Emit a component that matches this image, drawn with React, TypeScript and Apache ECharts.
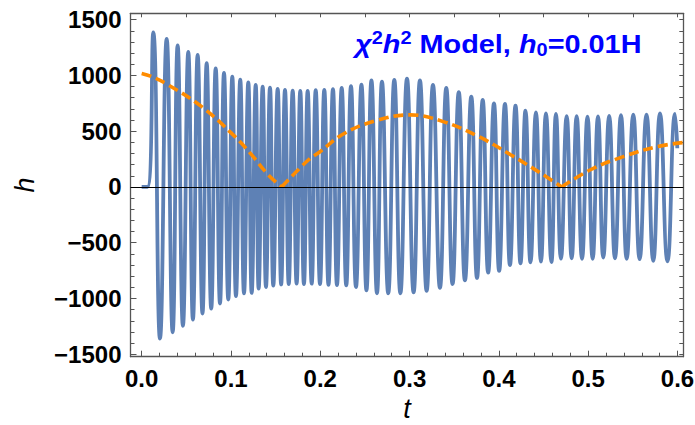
import React, { useEffect, useRef } from "react";
import * as echarts from "echarts";

// Oscillating h(t): local maxima and minima
const peakTimes = [
  0.013, 0.028, 0.0403, 0.0522, 0.0627, 0.0728, 0.0829, 0.0922, 0.1015, 0.1104,
  0.1194, 0.1277, 0.1355, 0.1437, 0.1523, 0.1605, 0.1691, 0.1776, 0.1859, 0.1949,
  0.2045, 0.2142, 0.224, 0.2344, 0.2461, 0.2573, 0.2691, 0.2829, 0.2971, 0.3116,
  0.3262, 0.3411, 0.3551, 0.3691, 0.3819, 0.3945, 0.4068, 0.4186, 0.4298, 0.4415,
  0.4527, 0.4639, 0.4759, 0.4871, 0.4992, 0.511, 0.5235, 0.5367, 0.5505, 0.5653,
  0.5804, 0.5972,
];
const peakValues = [
  1386, 1327, 1270, 1210, 1184, 1109, 1064, 1022, 989, 962,
  938, 915, 900, 891, 879, 870, 864, 861, 861, 867,
  871, 878, 887, 903, 917, 955, 945, 960, 971, 955,
  915, 887, 851, 810, 780, 750, 745, 729, 685, 668,
  660, 655, 635, 635, 631, 633, 637, 643, 648, 649,
  660, 655,
];
const troughTimes = [
  0.0205, 0.0347, 0.0462, 0.0574, 0.0681, 0.0779, 0.0877, 0.097, 0.1056, 0.1146,
  0.1232, 0.131, 0.1392, 0.1474, 0.1562, 0.1647, 0.1735, 0.1817, 0.1904, 0.1997,
  0.2092, 0.2187, 0.2291, 0.24, 0.2517, 0.2635, 0.2761, 0.2897, 0.3045, 0.3191,
  0.334, 0.3481, 0.362, 0.3755, 0.388, 0.4003, 0.4124, 0.4242, 0.4354, 0.4471,
  0.4588, 0.4695, 0.4815, 0.4931, 0.505, 0.5169, 0.53, 0.5431, 0.5576, 0.5729,
  0.5888,
];
const troughValues = [
  -1360, -1303, -1245, -1189, -1135, -1091, -1045, -1009, -979, -953,
  -950, -912, -897, -884, -874, -870, -866, -870, -867, -871,
  -877, -879, -882, -897, -927, -953, -953, -953, -945, -932,
  -905, -870, -837, -816, -768, -753, -700, -684, -675, -669,
  -673, -643, -640, -645, -645, -633, -640, -645, -648, -662,
  -666,
];
const startTimes = [0, 0.0065];
const startValues = [0, 0];
const endTimes = [0.5998];
const endValues = [347];

// Orange dashed curve
const envelopeTimes = [
  0, 0.0112, 0.0298, 0.0672, 0.1045, 0.1232, 0.1418, 0.1568, 0.1866, 0.1997,
  0.2258, 0.2624, 0.3005, 0.3377, 0.3766, 0.4136, 0.446, 0.4703, 0.502, 0.5393,
  0.5767, 0.6065,
];
const envelopeValues = [
  1018, 989, 915, 720, 451, 287, 108, 0, 242, 316,
  475, 595, 646, 586, 455, 287, 128, 0, 152, 272,
  361, 398,
];

// Ticks
const xMajorTicks = [0, 0.1, 0.2, 0.3, 0.4, 0.5, 0.6];
const xMinorTicks = [
  0.02, 0.04, 0.06, 0.08, 0.12, 0.14, 0.16, 0.18, 0.22, 0.24, 0.26, 0.28,
  0.32, 0.34, 0.36, 0.38, 0.42, 0.44, 0.46, 0.48, 0.52, 0.54, 0.56, 0.58,
];
const xTopTicks = [0, 0.05, 0.1, 0.15, 0.2, 0.25, 0.3, 0.35, 0.4, 0.45, 0.5, 0.55, 0.6];
const yMajorTicks = [-1500, -1000, -500, 0, 500, 1000, 1500];
const yMinorTicks = [
  -1400, -1300, -1200, -1100, -900, -800, -700, -600, -400, -300, -200, -100,
  100, 200, 300, 400, 600, 700, 800, 900, 1100, 1200, 1300, 1400,
];

const X_MIN = -0.0125;
const X_MAX = 0.6065;
const Y_MIN = -1522;
const Y_MAX = 1557;

const FRAME = "#555555";
const FONT = "Liberation Sans, Arial, sans-serif";

export default function App() {
  const ref = useRef<HTMLDivElement>(null);

  useEffect(() => {
    if (!ref.current) return;
    const chart = echarts.init(ref.current, null, { renderer: "svg" });

    const wave: number[][] = [];
    startTimes.forEach((t, i) => wave.push([t, startValues[i]]));
    peakTimes.forEach((t, i) => {
      wave.push([t, peakValues[i]]);
      if (i < troughTimes.length) wave.push([troughTimes[i], troughValues[i]]);
    });
    endTimes.forEach((t, i) => wave.push([t, endValues[i]]));

    // split orange curve at its zero points so the V corners stay sharp
    const segments: number[][][] = [[]];
    envelopeTimes.forEach((t, i) => {
      const p = [t, envelopeValues[i]];
      segments[segments.length - 1].push(p);
      if (envelopeValues[i] === 0 && i > 0 && i < envelopeTimes.length - 1) {
        segments.push([p]);
      }
    });

    const tickLine = { color: FRAME, width: 1 };
    const xBase = {
      type: "value",
      min: X_MIN,
      max: X_MAX,
      splitLine: { show: false },
      gridIndex: 0,
    };
    const yBase = {
      type: "value",
      min: Y_MIN,
      max: Y_MAX,
      splitLine: { show: false },
      gridIndex: 0,
    };

    const option: any = {
      animation: false,
      backgroundColor: "#ffffff",
      grid: {
        left: 130.5,
        right: 11.7,
        top: 13.3,
        bottom: 68.3,
        containLabel: false,
        outerBoundsMode: "none",
      },
      xAxis: [
        {
          ...xBase,
          position: "bottom",
          name: "t",
          nameLocation: "middle",
          nameGap: 37,
          nameTextStyle: {
            fontFamily: FONT,
            fontStyle: "italic",
            fontSize: 27,
            color: "#000",
          },
          axisLine: { show: true, onZero: false, lineStyle: { color: FRAME, width: 1.3 } },
          axisTick: {
            show: true,
            inside: true,
            length: 6,
            customValues: xMajorTicks,
            lineStyle: tickLine,
          },
          axisLabel: {
            show: true,
            customValues: xMajorTicks,
            margin: 10,
            fontFamily: FONT,
            fontWeight: "bold",
            fontSize: 24,
            color: "#000",
            formatter: (v: number) => v.toFixed(1),
          },
        },
        {
          ...xBase,
          position: "bottom",
          axisLine: { show: false, onZero: false },
          axisTick: {
            show: true,
            inside: true,
            length: 4,
            customValues: xMinorTicks,
            lineStyle: tickLine,
          },
          axisLabel: { show: false },
        },
        {
          ...xBase,
          position: "top",
          axisLine: { show: true, onZero: false, lineStyle: { color: FRAME, width: 1.3 } },
          axisTick: {
            show: true,
            inside: true,
            length: 4,
            customValues: xTopTicks,
            lineStyle: tickLine,
          },
          axisLabel: { show: false },
        },
      ],
      yAxis: [
        {
          ...yBase,
          position: "left",
          name: "h",
          nameLocation: "middle",
          nameGap: 92,
          nameTextStyle: {
            fontFamily: FONT,
            fontStyle: "italic",
            fontSize: 27,
            color: "#000",
          },
          axisLine: { show: true, onZero: false, lineStyle: { color: FRAME, width: 1.3 } },
          axisTick: {
            show: true,
            inside: true,
            length: 6,
            customValues: yMajorTicks,
            lineStyle: tickLine,
          },
          axisLabel: {
            show: true,
            customValues: yMajorTicks,
            margin: 9,
            fontFamily: FONT,
            fontWeight: "bold",
            fontSize: 24,
            color: "#000",
            formatter: (v: number) => (v < 0 ? "\u2212" + Math.abs(v) : String(v)),
          },
        },
        {
          ...yBase,
          position: "left",
          axisLine: { show: false, onZero: false },
          axisTick: {
            show: true,
            inside: true,
            length: 4,
            customValues: yMinorTicks,
            lineStyle: tickLine,
          },
          axisLabel: { show: false },
        },
        {
          ...yBase,
          position: "right",
          axisLine: { show: true, onZero: false, lineStyle: { color: FRAME, width: 1.3 } },
          axisTick: {
            show: true,
            inside: true,
            length: 4,
            customValues: [...yMajorTicks, ...yMinorTicks],
            lineStyle: tickLine,
          },
          axisLabel: { show: false },
        },
      ],
      graphic: [
        {
          type: "text",
          x: 355,
          y: 29,
          scaleX: 1.11,
          z: 100,
          style: {
            text: "{ci|\u03c7}{sp|2}{ci|h}{sp|2}{bd| Model, }{ci|h}{sb|0}{bd|=0.01H}",
            fill: "#0000ff",
            rich: {
              ci: {
                fontFamily: FONT,
                fontStyle: "italic",
                fontWeight: "bold",
                fontSize: 26,
                lineHeight: 30,
                fill: "#0000ff",
              },
              bd: {
                fontFamily: FONT,
                fontWeight: "bold",
                fontSize: 26,
                lineHeight: 30,
                fill: "#0000ff",
              },
              sp: {
                fontFamily: FONT,
                fontWeight: "bold",
                fontSize: 18,
                lineHeight: 19,
                verticalAlign: "top",
                fill: "#0000ff",
              },
              sb: {
                fontFamily: FONT,
                fontWeight: "bold",
                fontSize: 18,
                lineHeight: 18,
                verticalAlign: "bottom",
                fill: "#0000ff",
              },
            },
          },
        },
      ],
      series: [
        {
          type: "line",
          name: "h",
          data: wave,
          xAxisIndex: 0,
          yAxisIndex: 0,
          showSymbol: false,
          symbol: "none",
          smooth: 0.5,
          lineStyle: { color: "#5E81B5", width: 3.8 },
          z: 2,
          markLine: {
            silent: true,
            symbol: "none",
            label: { show: false },
            lineStyle: { color: "#000", width: 1, type: "solid" },
            data: [{ yAxis: 0 }],
          },
        },
        ...segments.map((seg) => ({
          type: "line",
          name: "envelope",
          data: seg,
          xAxisIndex: 0,
          yAxisIndex: 0,
          showSymbol: false,
          symbol: "none",
          smooth: 0.4,
          lineStyle: { color: "#FF8C00", width: 3.6, type: [10, 5] },
          z: 3,
        })),
      ],
    };

    chart.setOption(option);
    return () => chart.dispose();
  }, []);

  return (
    <div
      ref={ref}
      style={{ position: "fixed", left: 0, top: 0, width: 695, height: 425, background: "#fff" }}
    />
  );
}
